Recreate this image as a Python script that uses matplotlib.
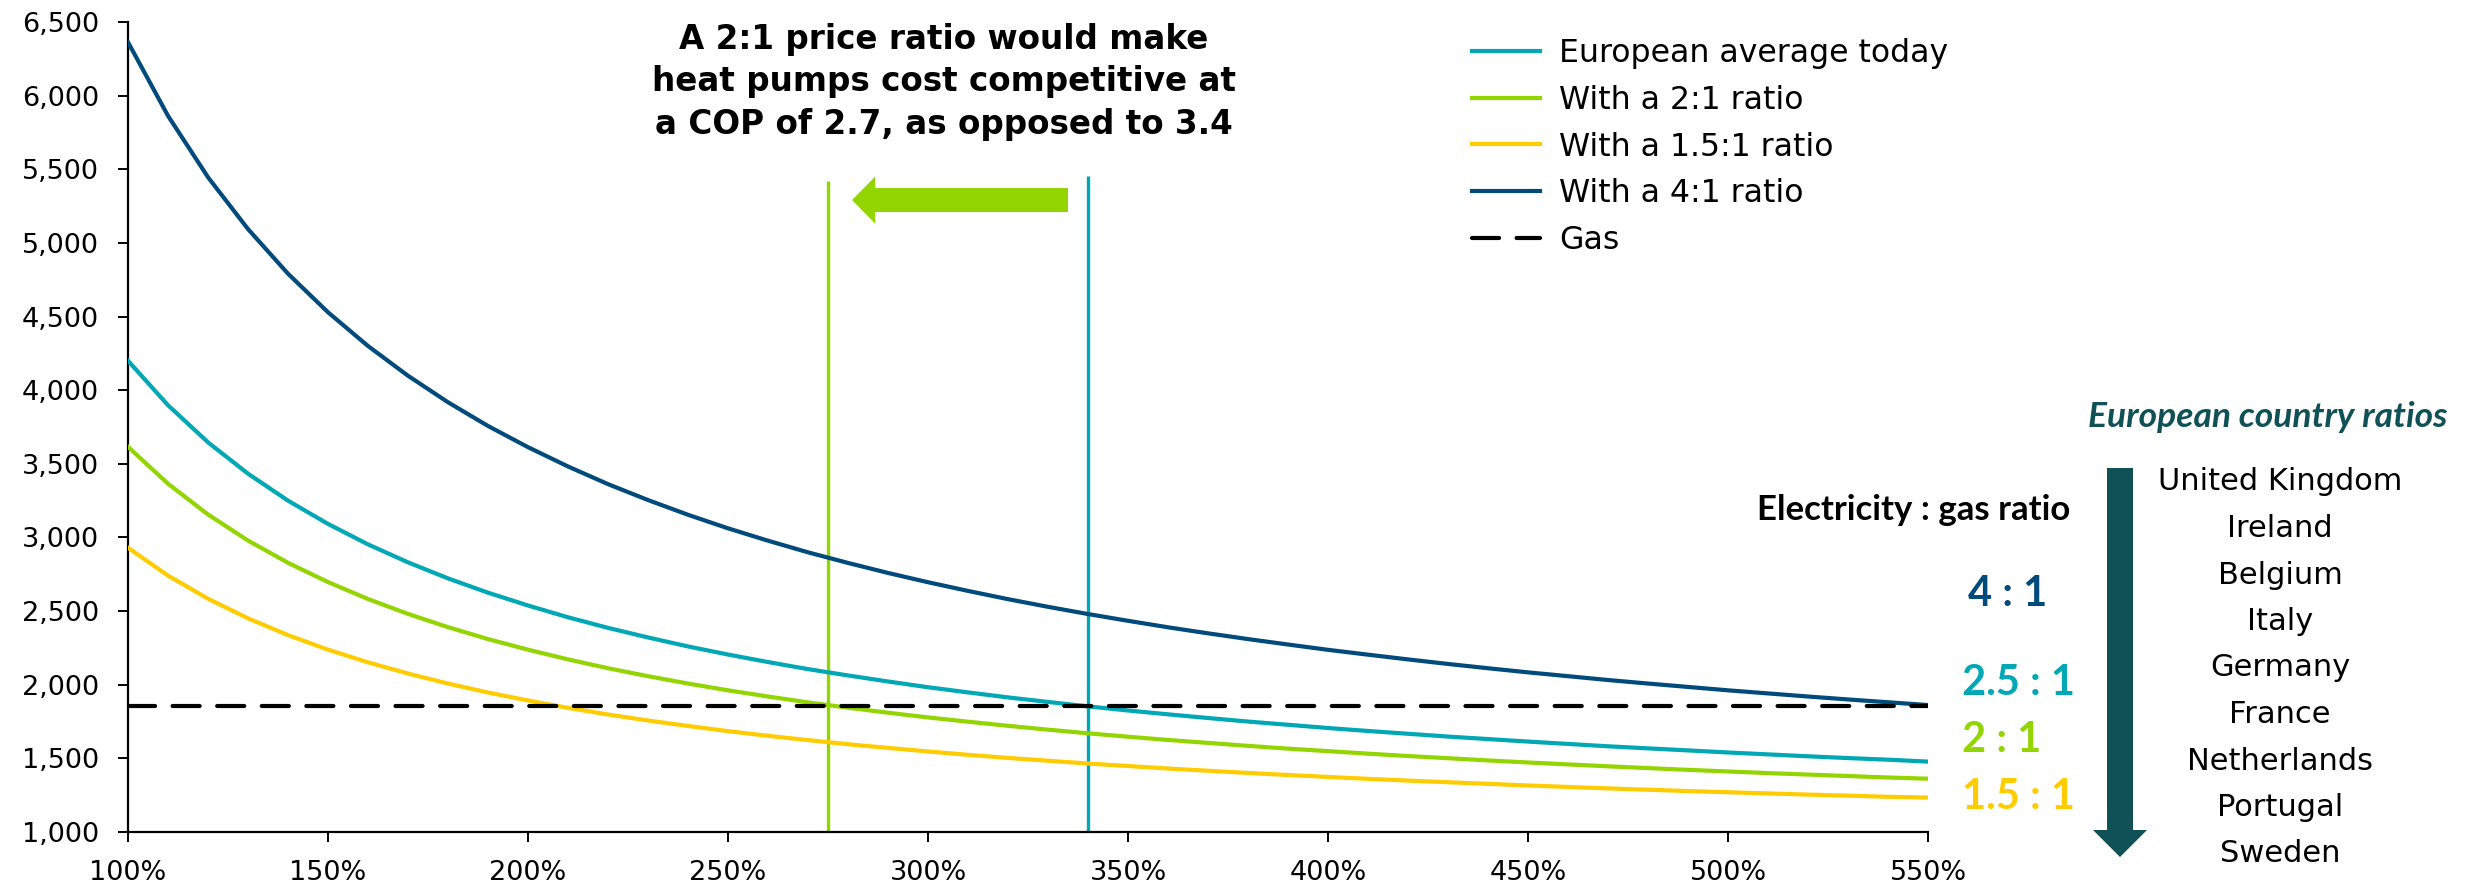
import matplotlib
matplotlib.use("Agg")
import matplotlib.pyplot as plt
from matplotlib.patches import FancyArrow
from matplotlib.ticker import FuncFormatter, MultipleLocator

# ---------------- data ----------------
cop_pct = list(range(100, 551, 10))

european_avg = [4200, 3898, 3646, 3433, 3250, 3092, 2953, 2831, 2722, 2625,
                2538, 2458, 2386, 2321, 2260, 2205, 2154, 2106, 2063, 2022,
                1983, 1948, 1914, 1883, 1853, 1825, 1799, 1774, 1750, 1728,
                1706, 1686, 1667, 1648, 1631, 1614, 1598, 1582, 1568, 1554,
                1540, 1527, 1514, 1502, 1491, 1478]
ratio_2 = [3615, 3365, 3156, 2979, 2828, 2697, 2582, 2481, 2391, 2310,
           2238, 2172, 2112, 2058, 2008, 1962, 1920, 1880, 1844, 1810,
           1778, 1749, 1721, 1695, 1670, 1647, 1625, 1605, 1585, 1566,
           1549, 1532, 1516, 1501, 1486, 1472, 1459, 1446, 1434, 1422,
           1411, 1400, 1390, 1380, 1370, 1362]
ratio_15 = [2930, 2741, 2584, 2451, 2337, 2238, 2152, 2076, 2008, 1947,
            1893, 1843, 1798, 1757, 1720, 1685, 1653, 1624, 1596, 1571,
            1547, 1524, 1503, 1484, 1465, 1448, 1431, 1416, 1401, 1387,
            1374, 1361, 1349, 1338, 1327, 1316, 1306, 1296, 1287, 1278,
            1270, 1262, 1254, 1247, 1239, 1234]
ratio_4 = [6363, 5863, 5446, 5094, 4791, 4529, 4300, 4098, 3918, 3757,
           3613, 3482, 3362, 3254, 3154, 3062, 2978, 2899, 2827, 2759,
           2696, 2637, 2581, 2529, 2480, 2434, 2390, 2349, 2310, 2273,
           2237, 2204, 2172, 2141, 2112, 2084, 2058, 2032, 2008, 1985,
           1962, 1941, 1920, 1900, 1881, 1862]
gas_cost = 1855

series_labels = ["European average today", "With a 2:1 ratio",
                 "With a 1.5:1 ratio", "With a 4:1 ratio"]
gas_label = "Gas"

breakeven_cop = [275, 340]          # 2:1 ratio and today's average
breakeven_top = [5420, 5455]

countries = ["United Kingdom", "Ireland", "Belgium", "Italy", "Germany",
             "France", "Netherlands", "Portugal", "Sweden"]
ratio_texts = ["4 : 1", "2.5 : 1", "2 : 1", "1.5 : 1"]

title_text = ("A 2:1 price ratio would make\n"
              "heat pumps cost competitive at\n"
              "a COP of 2.7, as opposed to 3.4")

# ---------------- style ----------------
C_TEAL = "#00A7B5"
C_GREEN = "#93D500"
C_YELLOW = "#FFCC00"
C_BLUE = "#004B7B"
C_DARK = "#0F5156"

W, H = 2466, 889
fig = plt.figure(figsize=(W / 100, H / 100), dpi=100)
ax = fig.add_axes([128 / W, 57 / H, 1800 / W, 810 / H])

lw = 3.0
ax.plot(cop_pct, european_avg, color=C_TEAL, lw=lw, label=series_labels[0], zorder=3)
ax.plot(cop_pct, ratio_2, color=C_GREEN, lw=lw, label=series_labels[1], zorder=3)
ax.plot(cop_pct, ratio_15, color=C_YELLOW, lw=lw, label=series_labels[2], zorder=3)
ax.plot(cop_pct, ratio_4, color=C_BLUE, lw=lw, label=series_labels[3], zorder=3)
ax.plot([cop_pct[0], cop_pct[-1]], [gas_cost, gas_cost], color="black", lw=lw,
        dashes=(6.5, 4.2), dash_capstyle="round", label=gas_label, zorder=4)

ax.vlines(breakeven_cop[0], 1000, breakeven_top[0], color=C_GREEN, lw=2.4, zorder=2)
ax.vlines(breakeven_cop[1], 1000, breakeven_top[1], color=C_TEAL, lw=2.4, zorder=2)

# green arrow between the two break-even lines (annotation)
ax.add_patch(FancyArrow(335, 5291, -54, 0, width=163, head_width=320,
                        head_length=5.8, length_includes_head=True,
                        color=C_GREEN, lw=0, zorder=5))

ax.set_xlim(100, 550)
ax.set_ylim(1000, 6500)
ax.xaxis.set_major_locator(MultipleLocator(50))
ax.yaxis.set_major_locator(MultipleLocator(500))
ax.xaxis.set_major_formatter(FuncFormatter(lambda v, p: f"{v:.0f}%"))
ax.yaxis.set_major_formatter(FuncFormatter(lambda v, p: f"{v:,.0f}"))
for s in ("top", "right"):
    ax.spines[s].set_visible(False)
for s in ("left", "bottom"):
    ax.spines[s].set_linewidth(1.6)
ax.tick_params(axis="both", length=7, width=1.4, labelsize=19.5, colors="black")
ax.tick_params(axis="y", pad=14)
ax.tick_params(axis="x", pad=13)

leg = ax.legend(loc="upper left", bbox_to_anchor=(1472 / W, 1 - 38 / H),
                bbox_transform=fig.transFigure, frameon=False, fontsize=22.7,
                borderaxespad=0, borderpad=0, handlelength=2.16,
                handletextpad=0.6, labelspacing=0.5)

# title annotation
fig.text(944 / W, 1 - 82 / H, title_text, ha="center", va="center",
         fontsize=23.5, fontweight="bold", linespacing=1.38)

# right-hand panel
fig.text(2268 / W, 1 - 417 / H, "European country ratios", ha="center", va="center",
         fontsize=25.5, fontweight="bold", style="italic", color=C_DARK, family="Lato")
for i, name in enumerate(countries):
    fig.text(2280 / W, 1 - (482 + i * 46.5) / H, name, ha="center", va="center",
             fontsize=22)

fig.patches.append(FancyArrow(21.2, 4.21, 0, -3.89, width=0.26, head_width=0.54,
                              head_length=0.27, length_includes_head=True,
                              color=C_DARK, lw=0, transform=fig.dpi_scale_trans,
                              figure=fig))

fig.text(2070 / W, 1 - 510 / H, "Electricity : gas ratio", ha="right", va="center",
         fontsize=25, fontweight="bold", family="Lato")
fig.text(2008 / W, 1 - 594 / H, ratio_texts[0], ha="center", va="center",
         fontsize=30, fontweight="bold", family="Lato", color=C_BLUE)
fig.text(1962 / W, 1 - 683 / H, ratio_texts[1], ha="left", va="center",
         fontsize=30, fontweight="bold", family="Lato", color=C_TEAL)
fig.text(1962 / W, 1 - 740 / H, ratio_texts[2], ha="left", va="center",
         fontsize=30, fontweight="bold", family="Lato", color=C_GREEN)
fig.text(1962 / W, 1 - 797 / H, ratio_texts[3], ha="left", va="center",
         fontsize=30, fontweight="bold", family="Lato", color=C_YELLOW)

fig.savefig("out.png", dpi=100)
